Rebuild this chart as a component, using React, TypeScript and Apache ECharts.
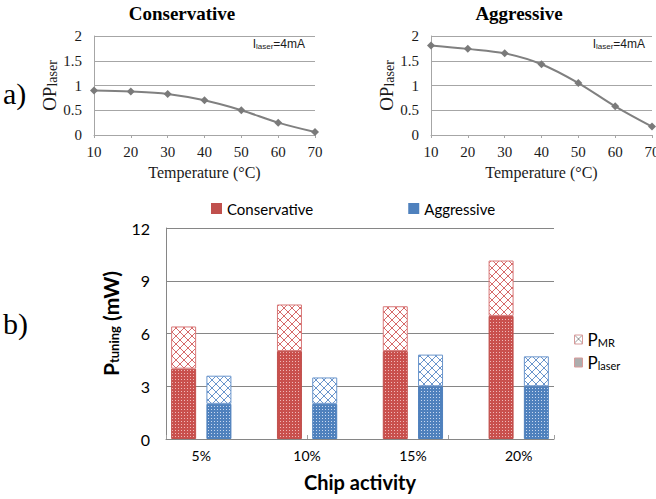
import React, { useEffect, useRef } from 'react';
import * as echarts from 'echarts';

// ---- Data ----
const temps = ['10', '20', '30', '40', '50', '60', '70'];
const opConservative = [0.9, 0.88, 0.83, 0.7, 0.5, 0.25, 0.06];
const opAggressive = [1.81, 1.74, 1.65, 1.43, 1.05, 0.58, 0.17];

const activity = ['5%', '10%', '15%', '20%'];
const consLaser = [4, 5, 5, 7];
const consMR = [2.4, 2.65, 2.55, 3.15];
const aggLaser = [2, 2, 3, 3];
const aggMR = [1.6, 1.5, 1.8, 1.7];

const RED = '#c0504d';
const BLUE = '#4f81bd';
const SERIF = '"Liberation Serif", "Times New Roman", serif';
const SANS = 'Lato, "Noto Sans", sans-serif';

// slot layout: [C, A, gap] per activity group, last gap dropped
const SLOTS = activity.length * 3 - 1;
function slotNames(): string[] {
  const out: string[] = [];
  activity.forEach((a, i) => {
    out.push(a + ' Conservative', a + ' Aggressive');
    if (i < activity.length - 1) out.push(a + ' gap');
  });
  return out;
}
function slotData(vals: number[], offset: number): (number | string)[] {
  const out: (number | string)[] = new Array(SLOTS).fill('-');
  vals.forEach((v, i) => (out[i * 3 + offset] = v));
  return out;
}
function labelAxisData(): string[] {
  const out: string[] = new Array(SLOTS + 1).fill('');
  activity.forEach((a, i) => (out[i * 3 + 1] = a));
  return out;
}

function crossPattern(bg: string, line: string, size = 8) {
  const c = document.createElement('canvas');
  c.width = size;
  c.height = size;
  const g = c.getContext('2d')!;
  g.fillStyle = bg;
  g.fillRect(0, 0, size, size);
  g.strokeStyle = line;
  g.lineWidth = 1;
  g.beginPath();
  g.moveTo(0, 0);
  g.lineTo(size, size);
  g.moveTo(size, 0);
  g.lineTo(0, size);
  g.stroke();
  return { image: c, repeat: 'repeat' };
}
function dotPattern(fg: string, dot: string) {
  const c = document.createElement('canvas');
  c.width = 3;
  c.height = 3;
  const g = c.getContext('2d')!;
  g.fillStyle = fg;
  g.fillRect(0, 0, 3, 3);
  g.fillStyle = dot;
  g.fillRect(1, 1, 1, 1);
  return { image: c, repeat: 'repeat' };
}
function stripePattern(fg: string, bg: string) {
  const c = document.createElement('canvas');
  c.width = 2;
  c.height = 2;
  const g = c.getContext('2d')!;
  g.fillStyle = bg;
  g.fillRect(0, 0, 2, 2);
  g.fillStyle = fg;
  g.fillRect(0, 0, 1, 2);
  return { image: c, repeat: 'repeat' };
}

export default function App() {
  const ref = useRef<HTMLDivElement>(null);
  useEffect(() => {
    const chart = echarts.init(ref.current!, null, { renderer: 'svg' });

    const topY = (idx: number) => ({
      type: 'value',
      gridIndex: idx,
      min: 0,
      max: 2,
      interval: 0.5,
      axisLine: { show: true, lineStyle: { color: '#a6a6a6' } },
      axisTick: { show: false },
      splitLine: { show: true, lineStyle: { color: '#a6a6a6' } },
      axisLabel: { fontFamily: SERIF, fontSize: 15, color: '#1a1a1a', margin: 12 },
      name: '{a|OP}{b|laser}',
      nameLocation: 'middle',
      nameRotate: 90,
      nameGap: 27,
      nameTextStyle: {
        rich: {
          a: { fontFamily: SERIF, fontSize: 19, color: '#1a1a1a', verticalAlign: 'bottom' },
          b: { fontFamily: SERIF, fontSize: 14, color: '#1a1a1a', verticalAlign: 'bottom' },
        },
      },
    });
    const topX = (idx: number) => ({
      type: 'category',
      gridIndex: idx,
      data: temps,
      boundaryGap: false,
      axisLine: { show: true, lineStyle: { color: '#a6a6a6' } },
      axisTick: { show: true, length: 3, lineStyle: { color: '#a6a6a6' } },
      axisLabel: { fontFamily: SERIF, fontSize: 15, color: '#1a1a1a', margin: 9, interval: 0 },
      name: 'Temperature (°C)',
      nameLocation: 'middle',
      nameGap: 29,
      nameTextStyle: { fontFamily: SERIF, fontSize: 16, color: '#1a1a1a' },
    });

    const lineSeries = (name: string, data: number[], idx: number) => ({
      type: 'line',
      name,
      xAxisIndex: idx,
      yAxisIndex: idx,
      data,
      smooth: 0.35,
      symbol: 'diamond',
      symbolSize: 8,
      lineStyle: { color: '#808080', width: 2 },
      itemStyle: { color: '#7a7a7a' },
    });

    const redMR = crossPattern('#ffffff', '#d66a6a');
    const blueMR = crossPattern('#ffffff', '#6a95cc');
    const redLaser = dotPattern('#c9504d', '#f0b8b8');
    const blueLaser = dotPattern('#4f81bd', '#c8d8f0');
    const legendMR = crossPattern('#ffffff', '#9a9a9a', 8);
    const legendLaser = stripePattern('#8a8a8a', '#d0d0d0');

    const barBase = {
      type: 'bar',
      xAxisIndex: 2,
      yAxisIndex: 2,
      stack: 'tuning',
      barWidth: 25,
    };

    const option: any = {
      animation: false,
      backgroundColor: '#ffffff',
      grid: [
        { left: 94, top: 36, width: 221, height: 99, outerBoundsMode: 'none', containLabel: false },
        { left: 431, top: 36, width: 221, height: 99, outerBoundsMode: 'none', containLabel: false },
        { left: 166, top: 228, width: 388, height: 211, outerBoundsMode: 'none', containLabel: false },
      ],
      xAxis: [
        topX(0),
        topX(1),
        {
          type: 'category',
          gridIndex: 2,
          data: slotNames(),
          position: 'bottom',
          axisLine: { show: true, lineStyle: { color: '#868686' } },
          axisTick: { show: true, inside: true, length: 4, lineStyle: { color: '#a0a0a0' } },
          axisLabel: { show: false },
          splitLine: { show: false },
        },
        {
          type: 'category',
          gridIndex: 2,
          data: labelAxisData(),
          boundaryGap: false,
          position: 'bottom',
          axisLine: { show: false },
          axisTick: { show: false },
          splitLine: { show: false },
          axisLabel: { interval: 0, fontFamily: SANS, fontSize: 14, color: '#000', margin: 9 },
          name: 'Chip activity',
          nameLocation: 'middle',
          nameGap: 33,
          nameTextStyle: { fontFamily: SANS, fontSize: 20, fontWeight: 'bold', color: '#000' },
        },
      ],
      yAxis: [
        topY(0),
        topY(1),
        {
          type: 'value',
          gridIndex: 2,
          min: 0,
          max: 12,
          interval: 3,
          axisLine: { show: true, lineStyle: { color: '#868686' } },
          axisTick: { show: false },
          splitLine: { show: true, lineStyle: { color: '#868686' } },
          axisLabel: { fontFamily: SANS, fontSize: 16, color: '#000', margin: 16 },
          name: '{p|P}{s|tuning}{p| (mW)}',
          nameLocation: 'middle',
          nameRotate: 90,
          nameGap: 34,
          nameTextStyle: {
            padding: [0, 0, 0, 20],
            rich: {
              p: { fontFamily: SANS, fontSize: 21, fontWeight: 'bold', color: '#000', verticalAlign: 'bottom' },
              s: { fontFamily: SANS, fontSize: 13, fontWeight: 'bold', color: '#000', verticalAlign: 'bottom' },
            },
          },
        },
      ],
      legend: [
        {
          left: 206,
          top: 196,
          itemWidth: 11,
          itemHeight: 11,
          itemGap: 95,
          icon: 'rect',
          textStyle: { fontFamily: SANS, fontSize: 15, color: '#000' },
          data: [
            { name: 'Conservative', itemStyle: { color: RED, borderWidth: 0 } },
            { name: 'Aggressive', itemStyle: { color: BLUE, borderWidth: 0 } },
          ],
          selectedMode: false,
        },
        {
          left: 569,
          top: 326,
          orient: 'vertical',
          itemWidth: 8,
          itemHeight: 9,
          itemGap: 6,
          icon: 'rect',
          selectedMode: false,
          formatter: (n: string) => (n === 'PMR' ? '{p|P}{s|MR}' : '{p|P}{s|laser}'),
          textStyle: {
            rich: {
              p: { fontFamily: SANS, fontSize: 17, color: '#000', verticalAlign: 'bottom' },
              s: { fontFamily: SANS, fontSize: 11, color: '#000', verticalAlign: 'bottom' },
            },
          },
          data: [
            { name: 'PMR', itemStyle: { color: legendMR, borderColor: '#d89a9a', borderWidth: 1 } },
            { name: 'Plaser', itemStyle: { color: legendLaser, borderColor: '#d89a9a', borderWidth: 1 } },
          ],
        },
      ],
      graphic: [
        {
          type: 'text',
          x: 182,
          y: 13,
          style: { text: 'Conservative', fontFamily: SERIF, fontSize: 19, fontWeight: 'bold', fill: '#000', align: 'center', verticalAlign: 'middle' },
        },
        {
          type: 'text',
          x: 519,
          y: 13,
          style: { text: 'Aggressive', fontFamily: SERIF, fontSize: 19, fontWeight: 'bold', fill: '#000', align: 'center', verticalAlign: 'middle' },
        },
        {
          type: 'text',
          x: 3,
          y: 93,
          style: { text: 'a)', fontFamily: SERIF, fontSize: 30, fill: '#000', align: 'left', verticalAlign: 'middle' },
        },
        {
          type: 'text',
          x: 3,
          y: 323,
          style: { text: 'b)', fontFamily: SERIF, fontSize: 30, fill: '#000', align: 'left', verticalAlign: 'middle' },
        },
        ...[305, 645].map((x) => ({
          type: 'text',
          x,
          y: 44,
          style: {
            text: '{a|I}{b|laser}{a|=4mA}',
            align: 'right',
            verticalAlign: 'middle',
            rich: {
              a: { fontFamily: '"Liberation Sans", sans-serif', fontSize: 12, fill: '#1a1a1a', color: '#1a1a1a', verticalAlign: 'bottom' },
              b: { fontFamily: '"Liberation Sans", sans-serif', fontSize: 8, fill: '#1a1a1a', color: '#1a1a1a', verticalAlign: 'bottom' },
            },
          },
        })),
      ],
      series: [
        lineSeries('OPlaser Conservative', opConservative, 0),
        lineSeries('OPlaser Aggressive', opAggressive, 1),
        {
          ...barBase,
          name: 'Conservative',
          data: slotData(consLaser, 0),
          itemStyle: { color: redLaser, borderColor: RED, borderWidth: 1 },
        },
        {
          ...barBase,
          name: 'Aggressive',
          data: slotData(aggLaser, 1),
          itemStyle: { color: blueLaser, borderColor: BLUE, borderWidth: 1 },
        },
        {
          ...barBase,
          name: 'PMR',
          data: slotData(consMR, 0),
          itemStyle: { color: redMR, borderColor: '#d87878', borderWidth: 1 },
        },
        {
          ...barBase,
          name: 'PMR',
          data: slotData(aggMR, 1),
          itemStyle: { color: blueMR, borderColor: '#6a95cc', borderWidth: 1 },
        },
        {
          type: 'bar',
          name: 'Plaser',
          xAxisIndex: 3,
          yAxisIndex: 2,
          data: [],
          itemStyle: { color: legendLaser },
        },
      ],
    };

    chart.setOption(option);
    return () => chart.dispose();
  }, []);

  return (
    <div
      ref={ref}
      style={{ position: 'fixed', left: 0, top: 0, width: 656, height: 499, background: '#fff' }}
    />
  );
}
